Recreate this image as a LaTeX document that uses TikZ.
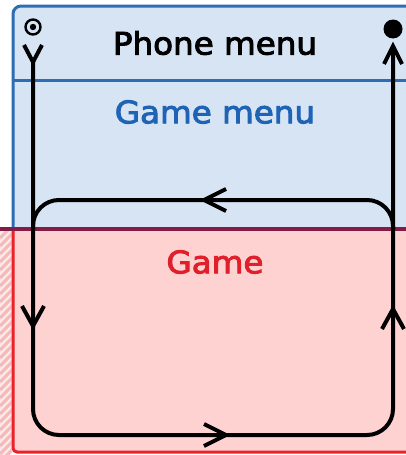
\documentclass[tikz,border=0pt]{standalone}
\usepackage{fontspec}
\newfontfamily\labfont{DejaVu Sans}
\newcommand{\heavytext}[1]{\special{pdf:literal direct 2 Tr 0.9 w}#1\special{pdf:literal direct 0 Tr}}
\usetikzlibrary{calc}
\definecolor{bfill}{RGB}{214,228,244}
\definecolor{bline}{RGB}{46,109,180}
\definecolor{btext}{RGB}{31,99,181}
\definecolor{rfill}{RGB}{255,210,210}
\definecolor{rline}{RGB}{232,33,43}
\definecolor{rtext}{RGB}{224,31,43}
\definecolor{hatchbg}{RGB}{255,232,232}
\definecolor{hatchfg}{RGB}{245,185,185}
\definecolor{joinline}{RGB}{130,30,70}
\tikzset{
  flow/.style={line width=4pt, black, rounded corners=26pt},
  chev/.style={line width=4pt, black, line join=miter},
  lab/.style={font=\labfont\fontsize{31}{34}\selectfont, xscale=1.05, inner sep=0pt},
}
\begin{document}
\begin{tikzpicture}[x=1pt,y=-1pt]
\useasboundingbox (0,0) rectangle (406,455);
\clip (0,0) rectangle (406,455);
% blue region
\fill[bfill, rounded corners=8pt] (13,229) -- (13,6) -- (420,6) -- (420,229) -- cycle;
\draw[bline, line width=3pt, rounded corners=8pt] (13,229) -- (13,6) -- (420,6);
\draw[bline, line width=3pt] (13,80) -- (420,80);
% red region
\fill[rfill] (13,229) rectangle (420,452);
\fill[hatchbg] (0,229) rectangle (12,455);
\begin{scope}
  \clip (0,229) rectangle (11.5,455);
  \foreach \i in {230,238,...,480} \draw[hatchfg, line width=3pt] (0,\i) -- ++(24,-24);
\end{scope}
\draw[rline, line width=3pt, rounded corners=4pt] (13,229) -- (13,452) -- (420,452);
\draw[joinline, line width=3.5pt] (0,229) -- (420,229);
% labels
\node[lab, text=black] (phone) at (215,43) {\heavytext{Phone menu}};
\node[lab, text=btext] (gmenu) at (215,112) {\heavytext{Game menu}};
\node[lab, text=rtext] (game) at (215,262) {\heavytext{Game}};
% start and end symbols
\node[circle, draw, line width=2.4pt, minimum size=15pt, inner sep=0pt] (start) at (33,27) {};
\fill (start.center) circle (3.2pt);
\node[circle, fill, minimum size=19pt, inner sep=0pt] (stop) at (393,29) {};
% coordinates of the flow
\coordinate (a1) at (33,60);
\coordinate (a2) at (33,435);
\coordinate (a3) at (393,435);
\coordinate (a4) at (393,46);
\coordinate (l1) at (33,229);
\coordinate (l2) at (33,200);
\coordinate (l3) at (393,200);
\coordinate (l4) at (393,229);
% flows
\draw[flow] (a1) -- (a2) -- (a3) -- (a4);
\draw[flow] (l1) -- (l2) -- (l3) -- (l4);
% chevrons
\coordinate (t0) at (33,62);
\draw[chev] ($(t0)+(-9,-17)$) -- (t0) -- ($(t0)+(9,-17)$);
\coordinate (t1) at (33,326);
\draw[chev] ($(t1)+(-11,-20)$) -- (t1) -- ($(t1)+(11,-20)$);
\coordinate (t2) at (226,435);
\draw[chev] ($(t2)+(-22,-11)$) -- (t2) -- ($(t2)+(-22,11)$);
\coordinate (t3) at (393,309);
\draw[chev] ($(t3)+(-11,20)$) -- (t3) -- ($(t3)+(11,20)$);
\coordinate (t4) at (204,200);
\draw[chev] ($(t4)+(22,-11)$) -- (t4) -- ($(t4)+(22,11)$);
\coordinate (t5) at (393,46);
\draw[chev] ($(t5)+(-9,18)$) -- (t5) -- ($(t5)+(9,18)$);
\end{tikzpicture}
\end{document}
